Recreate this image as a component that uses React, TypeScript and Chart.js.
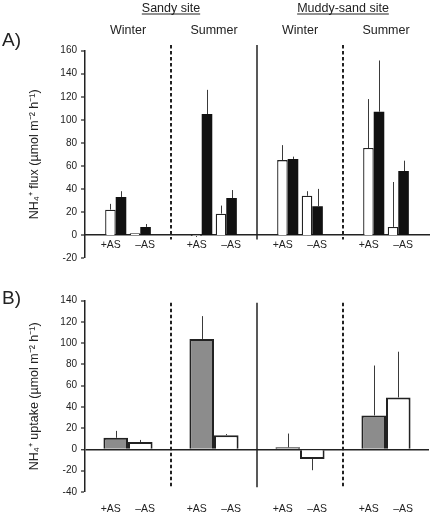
import React, { useEffect, useRef } from 'react';
import { Chart, registerables } from 'chart.js';

Chart.register(...registerables);

// ---------------- data ----------------
const siteNames = ['Sandy site', 'Muddy-sand site'];
const seasonNames = ['Winter', 'Summer', 'Winter', 'Summer'];
const treatmentNames = ['+AS', '–AS'];

// order: Sandy-Winter(+AS, –AS), Sandy-Summer(+AS, –AS), Muddy-Winter(+AS, –AS), Muddy-Summer(+AS, –AS)
const fluxOpen = [22, 1.5, -1, 18.5, 65, 34, 75.5, 7];
const fluxOpenErr = [5, 0, 0.8, 7, 13, 4, 42.5, 39];
const fluxFilled = [33, 7, 105, 32, 66, 25, 107, 55.5];
const fluxFilledErr = [5, 2.5, 21, 7, 2, 15, 44.5, 9];

const uptake = [11, 7, 104, 13.5, 2, -9, 32, 49];
const uptakeErr = [6.5, 2, 21.5, 1, 13, 10.5, 47, 43];

const fluxRange = [-20, 160];
const uptakeRange = [-40, 140];
const tickStep = 20;

const fluxTitle = 'NH₄⁺ flux (µmol m⁻² h⁻¹)';
const uptakeTitle = 'NH₄⁺ uptake (µmol m⁻² h⁻¹)';

// ---------------- styling / layout helpers ----------------
const FONT = "'Liberation Sans', Arial, sans-serif";
const INK = '#222222';
const GREY = '#8c8c8c';

const BAR_SLOTS = 7;
const BAR_POS = [2, 4];
const LABEL_SLOTS = 5;
const LABEL_POS = [1, 3];
const nGroups = seasonNames.length;

function toSlots<T>(vals: T[], per: number, pos: number[], empty: T): T[] {
  const out: T[] = new Array(nGroups * per).fill(empty);
  vals.forEach((v, k) => {
    const g = Math.floor(k / 2);
    const t = k % 2;
    out[g * per + pos[t]] = v;
  });
  return out;
}

const pairLabels = seasonNames.flatMap(() => treatmentNames);
const barSlotLabels = toSlots<string>(pairLabels, BAR_SLOTS, BAR_POS, '');
const tickSlotLabels = toSlots<string>(pairLabels, LABEL_SLOTS, LABEL_POS, '');

function boundary(chart: any, g: number) {
  const xl = chart.scales.xl;
  return (xl.getPixelForValue(g * LABEL_SLOTS + LABEL_SLOTS - 1) + xl.getPixelForValue((g + 1) * LABEL_SLOTS)) / 2;
}

function overlay(cfg: {
  id: string;
  errors: (number | null)[][];
  divTop: number;
  divBottom: number;
  panel: string;
  panelY: number;
  headers: boolean;
}) {
  return {
    id: cfg.id,
    afterDatasetsDraw(chart: any) {
      const ctx = chart.ctx;
      const y = chart.scales.y;
      ctx.save();
      ctx.strokeStyle = '#3a3a3a';
      ctx.lineWidth = 1;
      cfg.errors.forEach((errs, di) => {
        const meta = chart.getDatasetMeta(di);
        const vals = chart.data.datasets[di].data;
        errs.forEach((e, i) => {
          const v = vals[i];
          if (v == null || e == null || !e) return;
          const el = meta.data[i];
          const x = Math.round(el.x) + 0.5;
          const y0 = y.getPixelForValue(v);
          const y1 = y.getPixelForValue(v + (v < 0 ? -e : e));
          ctx.beginPath();
          ctx.moveTo(x, y0);
          ctx.lineTo(x, y1);
          ctx.stroke();
        });
      });
      ctx.restore();
    },
    afterDraw(chart: any) {
      const ctx = chart.ctx;
      const y = chart.scales.y;
      const xl = chart.scales.xl;
      ctx.save();
      // dividers
      const kinds = ['dash', 'solid', 'dash'];
      kinds.forEach((k, g) => {
        const x = boundary(chart, g);
        ctx.beginPath();
        ctx.strokeStyle = INK;
        if (k === 'dash') {
          ctx.lineWidth = 2;
          ctx.setLineDash([3.5, 2.5]);
        } else {
          ctx.lineWidth = 1.5;
          ctx.setLineDash([]);
        }
        ctx.moveTo(x, y.getPixelForValue(cfg.divTop));
        ctx.lineTo(x, y.getPixelForValue(cfg.divBottom));
        ctx.stroke();
      });
      ctx.setLineDash([]);
      // panel label
      ctx.fillStyle = INK;
      ctx.font = `19px ${FONT}`;
      ctx.textAlign = 'left';
      ctx.textBaseline = 'alphabetic';
      ctx.fillText(cfg.panel, 2, cfg.panelY);
      if (cfg.headers) {
        ctx.font = `12.5px ${FONT}`;
        ctx.textAlign = 'center';
        siteNames.forEach((s, k) => {
          const cx = boundary(chart, k * 2);
          ctx.fillText(s, cx, 12);
          const w = ctx.measureText(s).width;
          ctx.beginPath();
          ctx.lineWidth = 1;
          ctx.strokeStyle = INK;
          ctx.moveTo(cx - w / 2, 14);
          ctx.lineTo(cx + w / 2, 14);
          ctx.stroke();
        });
        seasonNames.forEach((s, g) => {
          const cx = xl.getPixelForValue(g * LABEL_SLOTS + 2);
          ctx.fillText(s, cx, 33.5);
        });
      }
      ctx.restore();
    },
  };
}

function yAxis(range: number[], title: string, zeroLine: boolean) {
  return {
    type: 'linear',
    min: range[0],
    max: range[1],
    afterFit: (s: any) => {
      s.width = 85;
    },
    ticks: {
      stepSize: tickStep,
      padding: 4,
      color: INK,
      font: { family: FONT, size: 10 },
    },
    grid: {
      drawOnChartArea: zeroLine,
      drawTicks: true,
      tickLength: 4,
      tickColor: INK,
      tickWidth: 1.2,
      color: (c: any) => (zeroLine && c.tick && c.tick.value === 0 ? INK : 'rgba(0,0,0,0)'),
      lineWidth: (c: any) => (zeroLine && c.tick && c.tick.value === 0 ? 1.5 : 0),
    },
    border: { display: true, color: INK, width: 1.5 },
    title: {
      display: true,
      text: title,
      color: INK,
      font: { family: FONT, size: 12.5 },
      padding: { top: 27.5, bottom: 0 },
    },
  };
}

function labelAxis(position: any, padding: number, withBorder: boolean, height?: number) {
  const ax: any = {
    type: 'category',
    axis: 'x',
    labels: tickSlotLabels,
    offset: true,
    position,
    grid: { display: false, drawTicks: false },
    border: { display: withBorder, color: INK, width: 1.5 },
    ticks: {
      autoSkip: false,
      maxRotation: 0,
      minRotation: 0,
      padding,
      color: INK,
      font: { family: FONT, size: 10.5 },
    },
  };
  if (height !== undefined) {
    ax.afterFit = (s: any) => {
      s.height = height;
    };
  }
  return ax;
}

export default function App() {
  const refA = useRef<HTMLCanvasElement>(null);
  const refB = useRef<HTMLCanvasElement>(null);

  useEffect(() => {
    const openSlots = toSlots<number | null>(fluxOpen, BAR_SLOTS, BAR_POS, null);
    const filledSlots = toSlots<number | null>(fluxFilled, BAR_SLOTS, BAR_POS, null);
    const chartA = new Chart(refA.current as HTMLCanvasElement, {
      type: 'bar',
      data: {
        labels: barSlotLabels,
        datasets: [
          {
            data: openSlots,
            backgroundColor: '#ffffff',
            borderColor: INK,
            borderWidth: 1.3,
            categoryPercentage: 1.72,
            barPercentage: 1,
          },
          {
            data: filledSlots,
            backgroundColor: '#111111',
            borderColor: '#111111',
            borderWidth: 0,
            categoryPercentage: 1.72,
            barPercentage: 1,
          },
        ],
      } as any,
      options: {
        responsive: false,
        animation: false,
        layout: { padding: { top: 50.7, bottom: 7.3, left: 0, right: 3 } },
        plugins: { legend: { display: false }, tooltip: { enabled: false } },
        scales: {
          x: { type: 'category', display: false, offset: true },
          xl: labelAxis({ y: 0 }, 4.3, true),
          y: yAxis(fluxRange, fluxTitle, false),
        } as any,
      },
      plugins: [
        overlay({
          id: 'ovA',
          errors: [
            toSlots<number | null>(fluxOpenErr, BAR_SLOTS, BAR_POS, null),
            toSlots<number | null>(fluxFilledErr, BAR_SLOTS, BAR_POS, null),
          ],
          divTop: 165,
          divBottom: -4,
          panel: 'A)',
          panelY: 46,
          headers: true,
        }),
      ],
    } as any);

    const uptakeSlots = toSlots<number | null>(uptake, BAR_SLOTS, BAR_POS, null);
    const uptakeColors = toSlots<string>(
      seasonNames.flatMap(() => [GREY, '#ffffff']),
      BAR_SLOTS,
      BAR_POS,
      '#ffffff'
    );
    const chartB = new Chart(refB.current as HTMLCanvasElement, {
      type: 'bar',
      data: {
        labels: barSlotLabels,
        datasets: [
          {
            data: uptakeSlots,
            backgroundColor: uptakeColors,
            borderColor: INK,
            borderWidth: 2,
            categoryPercentage: 2,
            barPercentage: 1,
          },
        ],
      } as any,
      options: {
        responsive: false,
        animation: false,
        layout: { padding: { top: 32.7, bottom: 0, left: 0, right: 3 } },
        plugins: { legend: { display: false }, tooltip: { enabled: false } },
        scales: {
          x: { type: 'category', display: false, offset: true },
          xl: labelAxis('bottom', 10.5, false, 22),
          y: yAxis(uptakeRange, uptakeTitle, true),
        } as any,
      },
      plugins: [
        overlay({
          id: 'ovB',
          errors: [toSlots<number | null>(uptakeErr, BAR_SLOTS, BAR_POS, null)],
          divTop: 138,
          divBottom: -35.5,
          panel: 'B)',
          panelY: 35.5,
          headers: false,
        }),
      ],
    } as any);

    return () => {
      chartA.destroy();
      chartB.destroy();
    };
  }, []);

  return (
    <div style={{ position: 'absolute', left: 0, top: 0, width: 432, height: 514, background: '#ffffff' }}>
      <canvas ref={refA} width={432} height={268} style={{ position: 'absolute', left: 0, top: 0, display: 'block' }} />
      <canvas ref={refB} width={432} height={246} style={{ position: 'absolute', left: 0, top: 268, display: 'block' }} />
    </div>
  );
}
